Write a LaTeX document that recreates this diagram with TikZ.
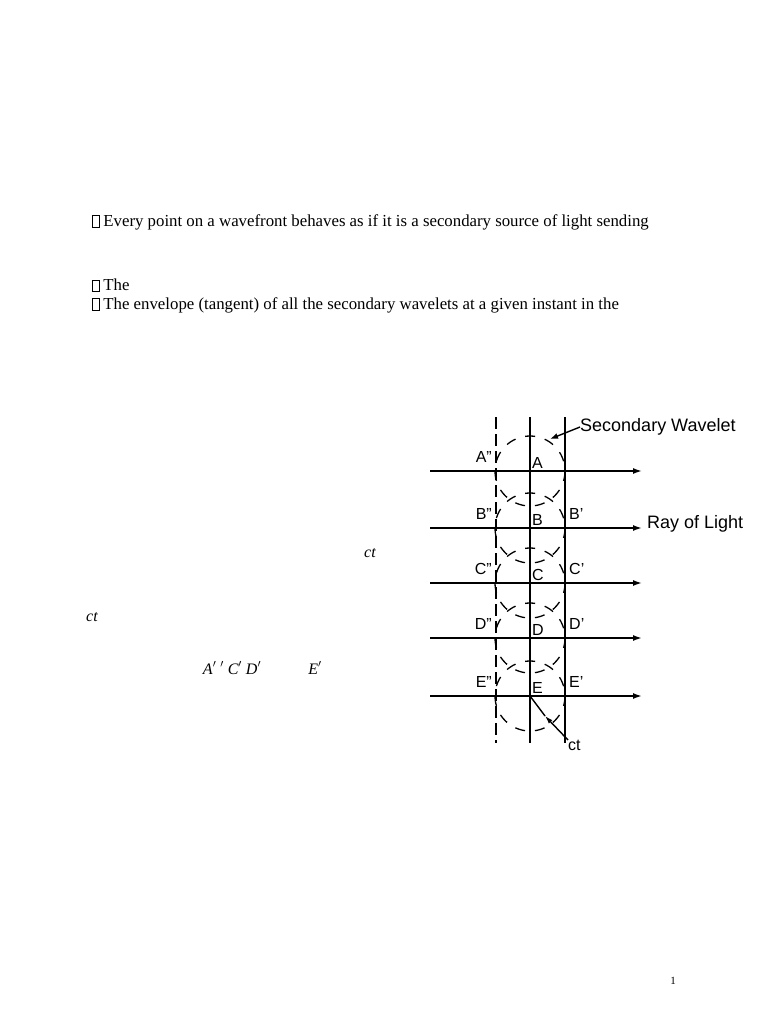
\documentclass[tikz,border=0pt]{standalone}
\usepackage{fontspec}
\setmainfont{Liberation Serif}
\setsansfont{Liberation Sans}
\usetikzlibrary{positioning, calc, arrows.meta}

\tikzset{
	ray/.style={line width=1.6pt, -{Latex[length=9pt,width=6pt]}},
	wave/.style={line width=1.6pt, dash pattern=on 12pt off 5pt},
	wavelet/.style={line width=1.3pt, dash pattern=on 10pt off 10pt},
	lbl/.style={font=\sffamily\fontsize{16}{16}\selectfont, inner sep=0pt},
	para/.style={font=\fontsize{16.8}{16.8}\selectfont, anchor=west, inner sep=0pt},
	mth/.style={font=\fontsize{16}{16}\selectfont\itshape, inner sep=0pt}
}
\newcommand{\bulletbox}{\raisebox{-0.5pt}{\framebox(7,11){}}}

\begin{document}
\begin{tikzpicture}[x=1pt, y=-1pt]
	\useasboundingbox (0,0) rectangle (768,1024);
	% text of the page
	\node[para] (p1) at (92,222) {\bulletbox\ Every point on a wavefront behaves as if it is a secondary source of light sending};
	\node[para] (p2) at (92,285) {\bulletbox\ The};
	\node[para] (p3) at (92,305) {\bulletbox\ The envelope (tangent) of all the secondary wavelets at a given instant in the};
	\node[mth] (m1) at (370,553) {ct};
	\node[mth] (m2) at (92,617) {ct};
	\node[mth] (m3) at (232,668) {A$'$ $'$ C$'$ D$'$};
	\node[mth] (m4) at (315,668) {E$'$};
	\node[font=\fontsize{11}{11}\selectfont] (pg) at (673,981) {1};

	% wavefronts
	\coordinate (lt) at (496,417); \coordinate (lb) at (496,743);
	\coordinate (mt) at (530,417); \coordinate (mb) at (530,743);
	\coordinate (rt) at (565,417); \coordinate (rb) at (565,743);
	\draw[wave] (lt) -- (lb);
	\draw[line width=1.6pt] (mt) -- (mb);
	\draw[line width=1.6pt] (rt) -- (rb);

	% rays, sources and wavelets
	\foreach \n/\y in {A/471, B/528, C/583, D/638, E/696} {
		\coordinate (\n) at (530,\y);
		\draw[ray] (430,\y) -- (642,\y);
		\draw[wavelet] (\n) circle (35);
		\node[lbl, anchor=south west] (\n-l) at (532,\y-2) {\n};
		\node[lbl, anchor=south east] (\n-ll) at (492,\y-8) {\n''};
	}
	\foreach \n/\y in {B/528, C/583, D/638, E/696}
		\node[lbl, anchor=south west] (\n-r) at (569,\y-8) {\n'};

	% annotations
	\node[lbl, font=\sffamily\fontsize{18}{18}\selectfont, anchor=west] (sw) at (580,427) {Secondary Wavelet};
	\draw[line width=1.4pt, -{Latex[length=8pt,width=6pt]}] (sw.west) -- (550,439);
	\node[lbl, font=\sffamily\fontsize{18}{18}\selectfont, anchor=west] (rl) at (647,524) {Ray of Light};
	\node[lbl, anchor=north west] (ct) at (568,740) {ct};
	\draw[line width=1.4pt, -{Latex[length=8pt,width=5pt]}] (ct.north west) -- (545,716);
	\draw[line width=1.4pt] (545,716) -- (E);
\end{tikzpicture}
\end{document}
